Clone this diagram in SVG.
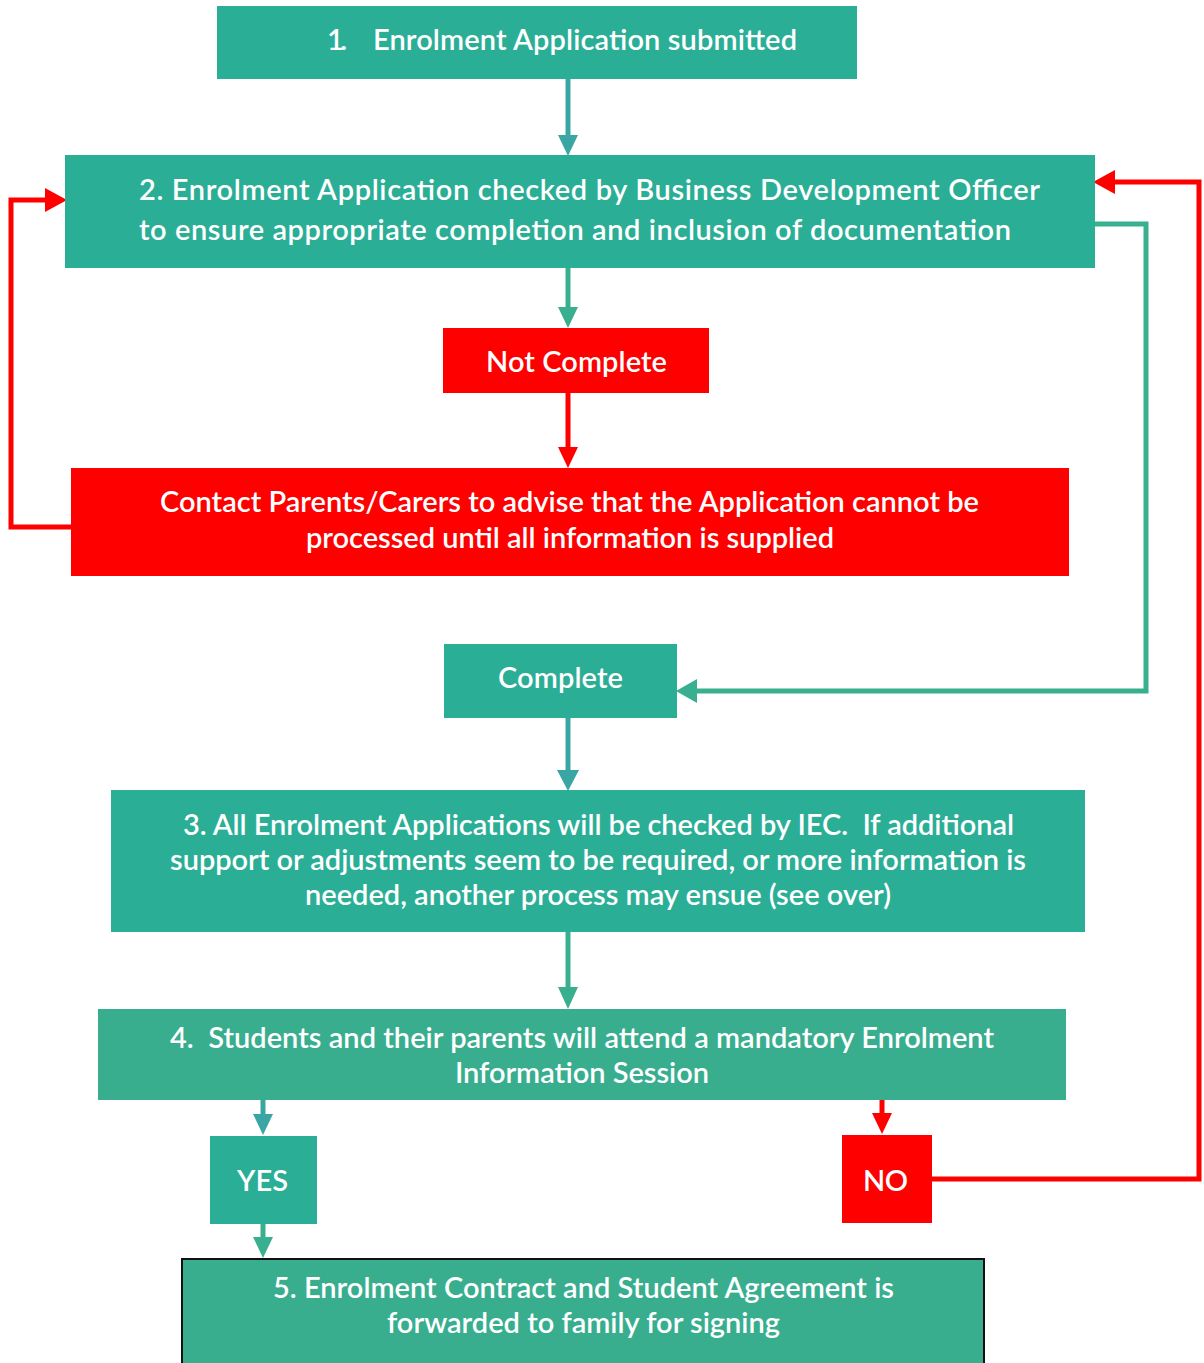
<svg xmlns="http://www.w3.org/2000/svg" width="1204" height="1363" viewBox="0 0 1204 1363">
<style>
  .t { font-family: Lato, "Liberation Sans", sans-serif; font-size: 29px; font-weight: 600; fill: #ffffff; text-anchor: middle; }
  .teal { fill: #2bae96; }
  .teal2 { fill: #38ae8f; }
  .red { fill: #ff0000; }
  .lnb { stroke: #3aa6a3; stroke-width: 5; fill: none; }
  .lng { stroke: #38b08f; stroke-width: 5; fill: none; }
  .lnr { stroke: #ff0000; stroke-width: 5; fill: none; }
</style>
<rect width="1204" height="1363" fill="#ffffff"/>
<g id="connectors">
  <line class="lnb" x1="568" y1="79" x2="568" y2="138"/>
  <polygon points="558,135 578,135 568,156" fill="#3aa6a3"/>
  <line class="lng" x1="568" y1="268" x2="568" y2="310"/>
  <polygon points="558,307 578,307 568,328" fill="#38b08f"/>
  <line class="lnr" x1="568" y1="393" x2="568" y2="450"/>
  <polygon points="558,447 578,447 568,468" fill="#ff0000"/>
  <polyline class="lnr" points="71,527 11,527 11,200 48,200"/>
  <polygon points="45,188 45,212 67,200" fill="#ff0000"/>
  <polyline class="lng" points="1095,224 1146,224 1146,691 694,691"/>
  <polygon points="697,679 697,703 676,691" fill="#38b08f"/>
  <line class="lnb" x1="568" y1="718" x2="568" y2="773"/>
  <polygon points="557,770 579,770 568,791" fill="#3aa6a3"/>
  <line class="lng" x1="568" y1="932" x2="568" y2="990"/>
  <polygon points="558,987 578,987 568,1009" fill="#38b08f"/>
  <line class="lnb" x1="263" y1="1100" x2="263" y2="1117"/>
  <polygon points="253,1114 273,1114 263,1135" fill="#3aa6a3"/>
  <line class="lng" x1="263" y1="1224" x2="263" y2="1240"/>
  <polygon points="253,1237 273,1237 263,1258" fill="#38b08f"/>
  <line class="lnr" x1="882" y1="1100" x2="882" y2="1116"/>
  <polygon points="872,1113 892,1113 882,1134" fill="#ff0000"/>
  <polyline class="lnr" points="932,1179 1199,1179 1199,182 1112,182"/>
  <polygon points="1115,170 1115,194 1093,182" fill="#ff0000"/>
</g>
<g id="n1">
  <rect class="teal" x="217" y="6" width="640" height="73"/>
  <text class="t" x="337" y="50" textLength="20">1.</text>
  <text class="t" x="585" y="50" textLength="424">Enrolment Application submitted</text>
</g>
<g id="n2">
  <rect class="teal" x="65" y="155" width="1030" height="113"/>
  <text class="t" x="589.5" y="200" textLength="901">2. Enrolment Application checked by Business Development Officer</text>
  <text class="t" x="575" y="240" textLength="872">to ensure appropriate completion and inclusion of documentation</text>
</g>
<g id="notcomplete">
  <rect class="red" x="443" y="328" width="266" height="65"/>
  <text class="t" x="576.5" y="372" textLength="181">Not Complete</text>
</g>
<g id="contact">
  <rect class="red" x="71" y="468" width="998" height="108"/>
  <text class="t" x="569.5" y="512" textLength="819">Contact Parents/Carers to advise that the Application cannot be</text>
  <text class="t" x="570" y="548" textLength="528">processed until all information is supplied</text>
</g>
<g id="complete">
  <rect class="teal" x="444" y="644" width="233" height="74"/>
  <text class="t" x="560.5" y="688" textLength="125">Complete</text>
</g>
<g id="n3">
  <rect class="teal" x="111" y="790" width="974" height="142"/>
  <text class="t" x="598.5" y="835" textLength="831" xml:space="preserve">3. All Enrolment Applications will be checked by IEC.  If additional</text>
  <text class="t" x="598" y="870" textLength="856">support or adjustments seem to be required, or more information is</text>
  <text class="t" x="598" y="905" textLength="586">needed, another process may ensue (see over)</text>
</g>
<g id="n4">
  <rect class="teal2" x="98" y="1009" width="968" height="91"/>
  <text class="t" x="582" y="1048" textLength="824" xml:space="preserve">4.  Students and their parents will attend a mandatory Enrolment</text>
  <text class="t" x="582" y="1083" textLength="254">Information Session</text>
</g>
<g id="yes">
  <rect class="teal" x="210" y="1136" width="107" height="88"/>
  <text class="t" x="262.5" y="1191" textLength="51">YES</text>
</g>
<g id="no">
  <rect class="red" x="842" y="1135" width="90" height="88"/>
  <text class="t" x="885.5" y="1191" textLength="45">NO</text>
</g>
<g id="n5">
  <rect class="teal2" x="182" y="1259" width="802" height="110" stroke="#111111" stroke-width="2"/>
  <text class="t" x="583.5" y="1298" textLength="621">5. Enrolment Contract and Student Agreement is</text>
  <text class="t" x="583.5" y="1333" textLength="393">forwarded to family for signing</text>
</g>
</svg>
